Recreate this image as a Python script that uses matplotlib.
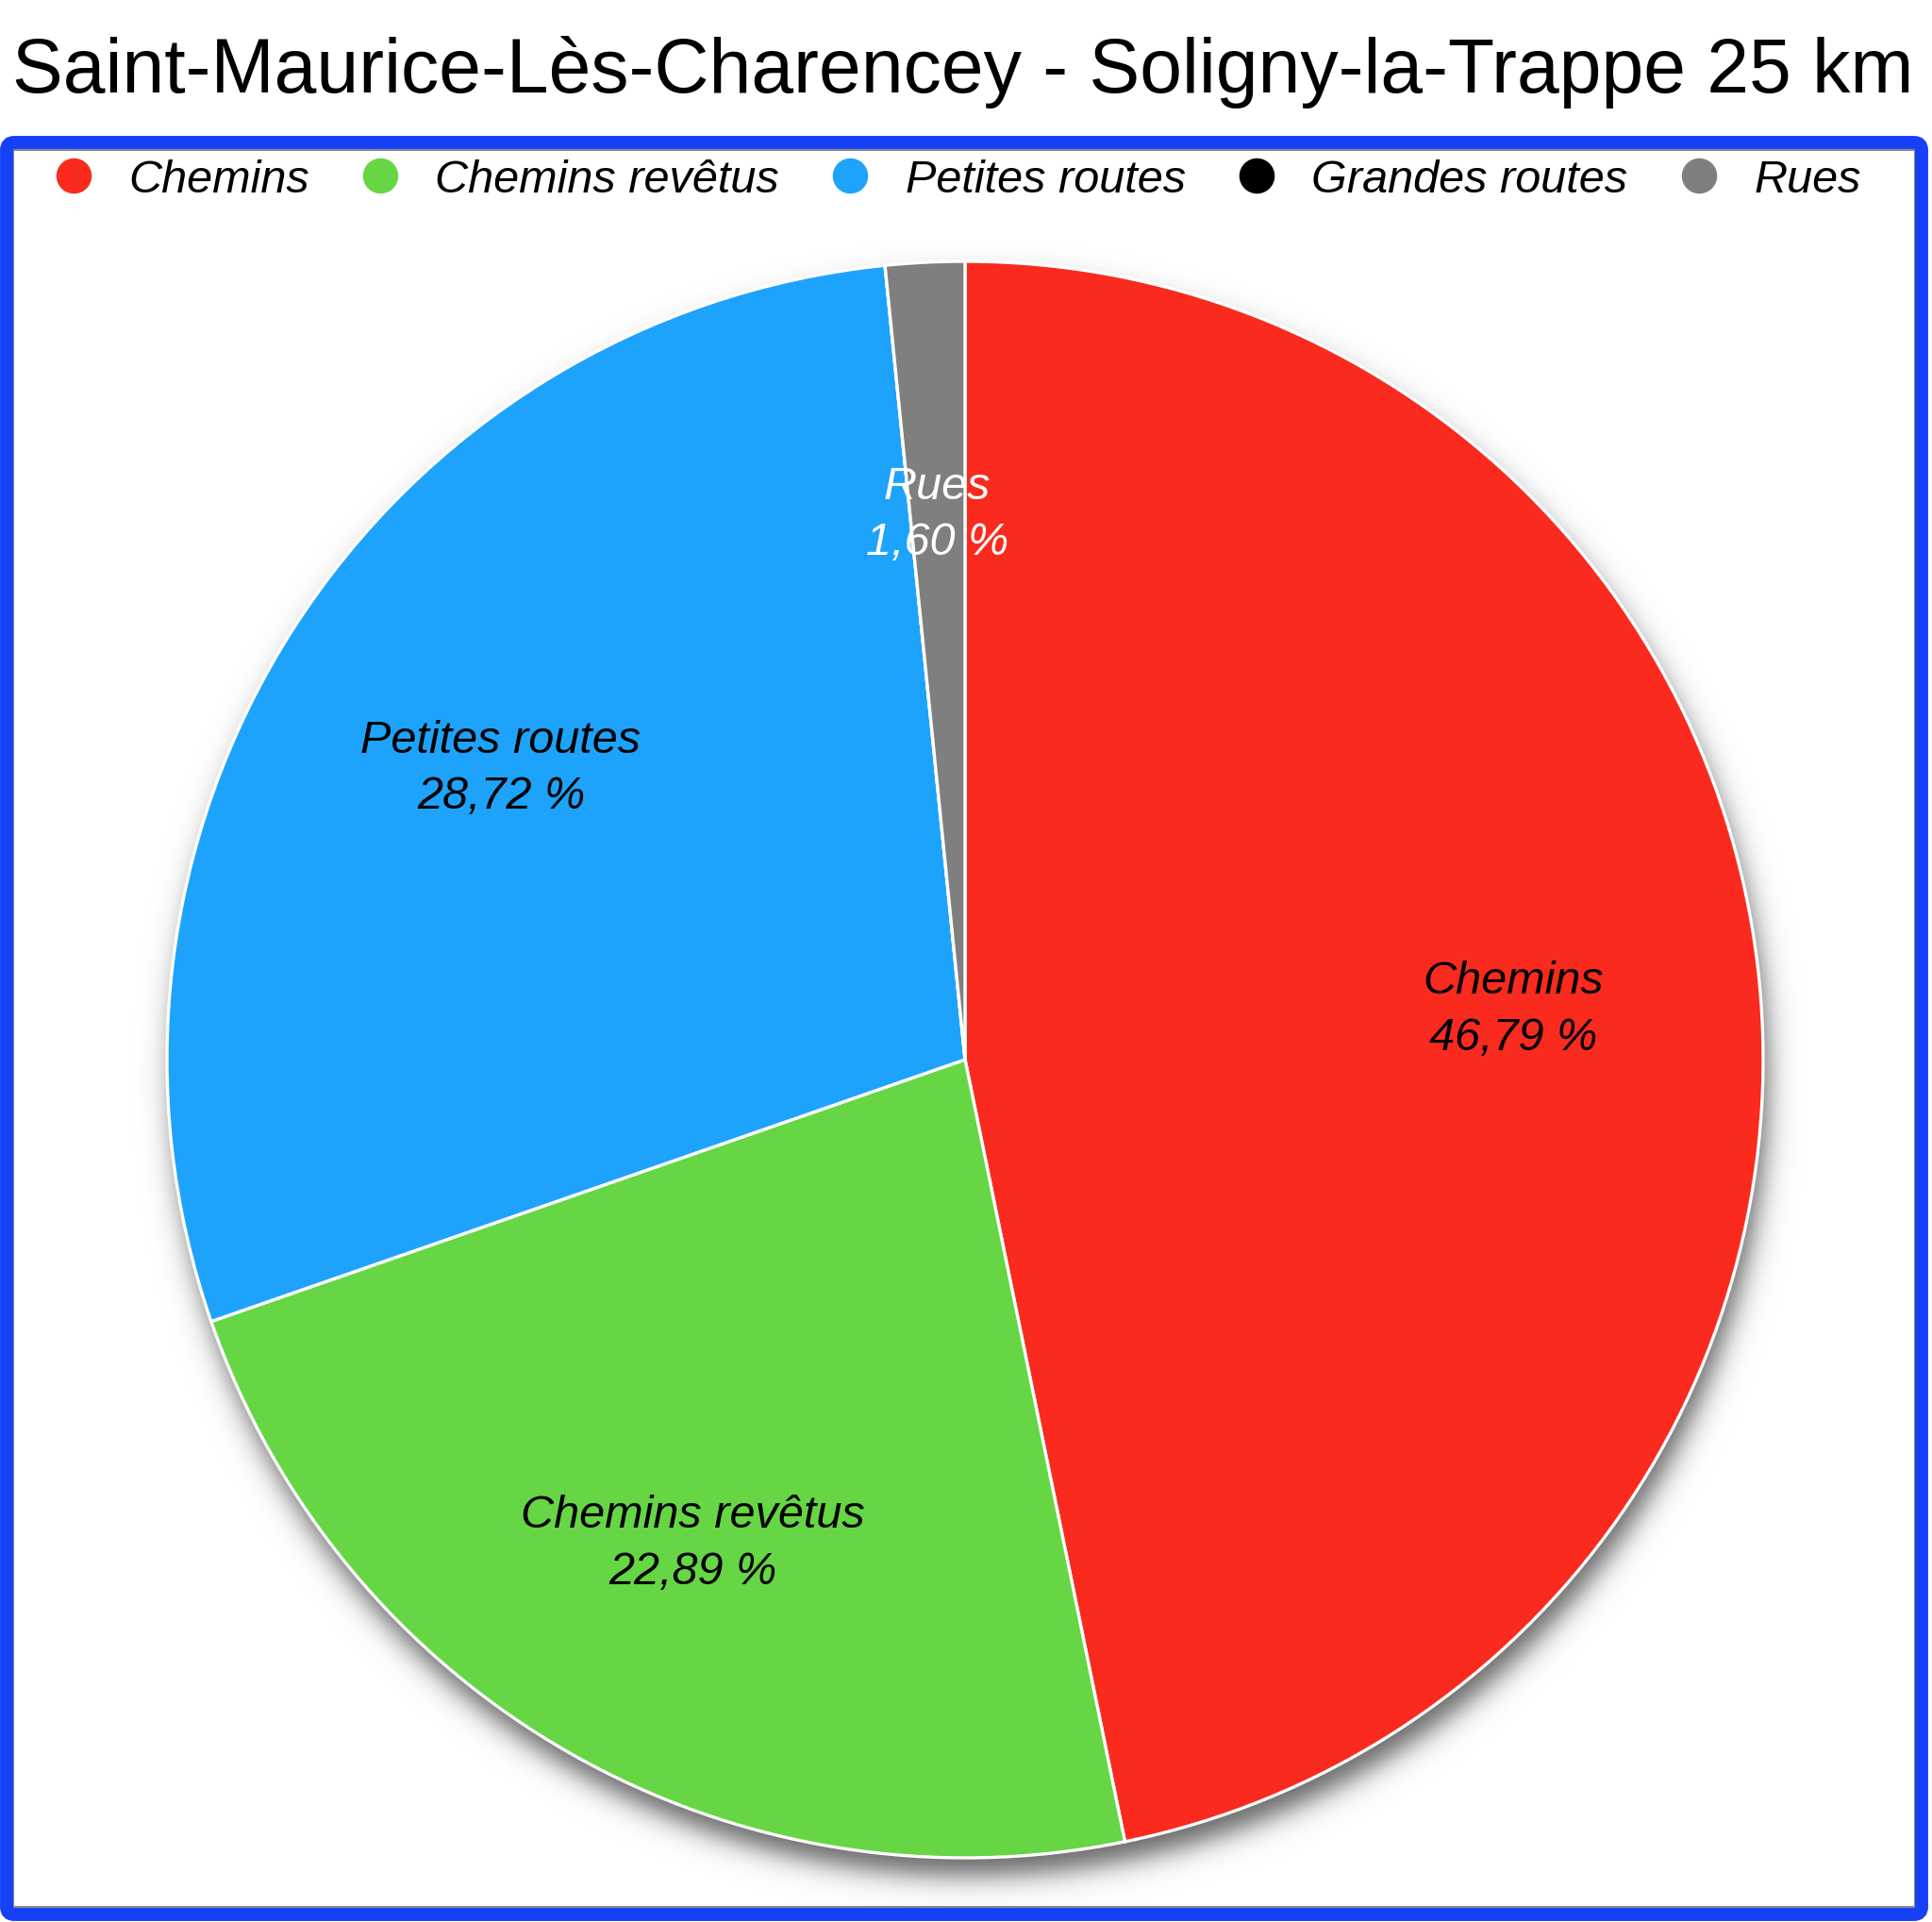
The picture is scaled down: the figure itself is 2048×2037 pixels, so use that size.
import matplotlib
matplotlib.use("Agg")
import matplotlib.pyplot as plt
from matplotlib.patches import FancyBboxPatch
from matplotlib.lines import Line2D
import numpy as np

plt.rcParams['font.family'] = ['Liberation Sans', 'DejaVu Sans']

title = "Saint-Maurice-Lès-Charencey - Soligny-la-Trappe 25 km"
categories = ["Chemins", "Chemins revêtus", "Petites routes", "Grandes routes", "Rues"]
values = [46.79, 22.89, 28.72, 0.0, 1.60]
labels_pct = ["46,79 %", "22,89 %", "28,72 %", "0,00 %", "1,60 %"]
colors = ["#FA2A1E", "#66D644", "#1EA3FC", "#000000", "#7F7F7F"]
label_colors = ["black", "black", "black", "black", "white"]

W, H = 2048, 2037
fig = plt.figure(figsize=(W / 100, H / 100), dpi=100)
fig.patch.set_facecolor("white")

# Blue frame (with thin grey inner line)
inner = FancyBboxPatch((14 / W, 16 / H), (2030 - 14) / W, (1878 - 16) / H,
                       boxstyle="square,pad=0", transform=fig.transFigure,
                       facecolor="none", edgecolor="#8A8A8A", linewidth=1.5,
                       zorder=9)
fig.patches.append(inner)
frame = FancyBboxPatch((7 / W, 8 / H), (2037 - 7) / W, (1886 - 8) / H,
                       boxstyle="round,pad=0,rounding_size=0.004",
                       transform=fig.transFigure, facecolor="none",
                       edgecolor="#1540F5", linewidth=10, zorder=10)
fig.patches.append(frame)

# Title
fig.text(13 / W, 1 - 98 / H, title, fontsize=58, ha="left", va="baseline",
         color="black")

# Pie axes
cx, cy, R = 1023, H - 1123, 846
ax = fig.add_axes([(cx - R) / W, (cy - R) / H, 2 * R / W, 2 * R / H])

# Soft drop shadow (styling only)
ext = 1.09
npx = 900
g = np.linspace(-ext, ext, npx)
X, Y = np.meshgrid(g, g[::-1])
offx, offy = 5 / R, -20 / R
dist = np.sqrt((X - offx) ** 2 + (Y - offy) ** 2) * R  # in pixels
alpha = 0.6 / (1.0 + np.exp((dist - R) / 8.5))
img = np.zeros((npx, npx, 4))
img[..., 3] = alpha
ax.imshow(img, extent=(-ext, ext, -ext, ext), zorder=1, clip_on=False,
          interpolation="bilinear")

wedges, _ = ax.pie(values, colors=colors, startangle=90, counterclock=False,
                   radius=1.0, center=(0, 0), frame=True,
                   wedgeprops=dict(edgecolor="white", linewidth=2.4))
for w in wedges:
    w.set_zorder(2)
ax.set_xlim(-1, 1)
ax.set_ylim(-1, 1)
ax.set_aspect("auto")
ax.axis("off")

# Labels
total = sum(values)
start = 90.0
for cat, v, pct, lc in zip(categories, values, labels_pct, label_colors):
    span = v / total * 360
    if v > 0:
        mid = np.deg2rad(start - span / 2)
        rr = 0.69
        ax.text(rr * np.cos(mid), rr * np.sin(mid) - 6 / R, f"{cat}\n{pct}",
                ha="center", va="center", fontsize=35, style="italic",
                color=lc, linespacing=1.42, zorder=5)
    start -= span

# Legend
handles = [Line2D([0], [0], marker="o", linestyle="none", markersize=27,
                  markerfacecolor=c, markeredgecolor="none") for c in colors]
fig.legend(handles, categories, loc="center", ncol=5,
           bbox_to_anchor=(1013 / W, 1 - 191 / H), frameon=False,
           prop=dict(size=35, style="italic"), handlelength=1.0,
           handletextpad=0.7, columnspacing=1.05)

fig.savefig("out.png", dpi=100, facecolor="white")
